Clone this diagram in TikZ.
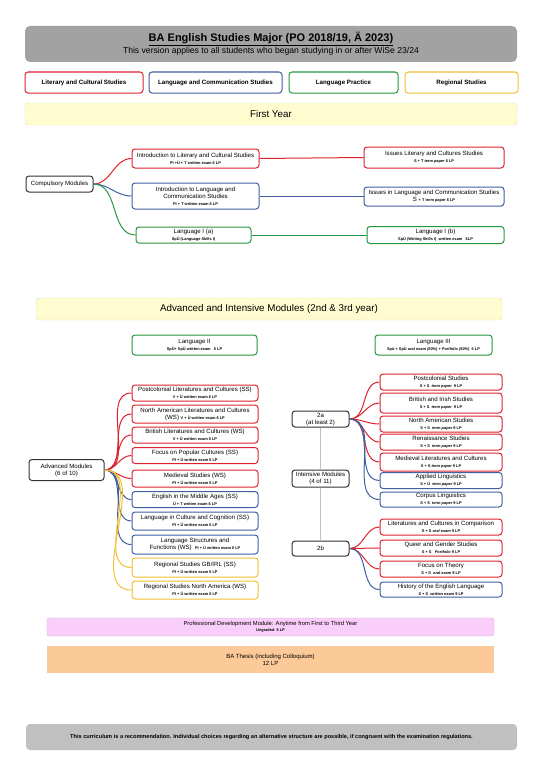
\documentclass[tikz,border=0pt]{standalone}
\usepackage{fontspec}
\setmainfont{Liberation Sans}
\usetikzlibrary{positioning}
\definecolor{litred}{RGB}{220,34,44}
\definecolor{langblue}{RGB}{62,96,160}
\definecolor{pracgreen}{RGB}{38,150,62}
\definecolor{regyellow}{RGB}{242,192,52}
\definecolor{headgray}{RGB}{162,162,162}
\definecolor{footgray}{RGB}{192,192,192}
\definecolor{baryellow}{RGB}{255,252,208}
\definecolor{barline}{RGB}{226,222,176}
\definecolor{pdpink}{RGB}{250,206,250}
\definecolor{pdline}{RGB}{222,176,222}
\definecolor{thesisorange}{RGB}{252,201,152}
\newcommand\exinfo[1]{{\fontsize{3.9}{4.5}\selectfont\bfseries #1}}
\tikzset{
  blk/.style   = {draw, rounded corners=3pt, line width=1pt, align=center,
                  fill=white, inner sep=1pt,
                  font=\fontsize{6.1}{7}\selectfont},
  lit/.style   = {blk, draw=litred},
  lang/.style  = {blk, draw=langblue},
  prac/.style  = {blk, draw=pracgreen},
  reg/.style   = {blk, draw=regyellow},
  root/.style  = {blk, draw=black!80},
  key/.style   = {minimum height=21pt, font=\fontsize{6.2}{7}\selectfont\bfseries},
  bar/.style   = {draw=barline, fill=baryellow, rounded corners=3pt,
                  minimum height=22pt, font=\fontsize{9.8}{11}\selectfont},
  lnk/.style   = {line width=1pt},
}

\begin{document}
\begin{tikzpicture}[x=1pt, y=-1pt]
\useasboundingbox (0,0) rectangle (543,768);

% ===== header and key =====
\node[fill=headgray, rounded corners=5pt, minimum width=492pt, minimum height=36pt,
      align=center, inner sep=0pt] (head) at (271,44)
     {\fontsize{11}{13}\selectfont\bfseries\underline{BA English Studies Major (PO 2018/19, Ä 2023)}\\
      \fontsize{8.6}{10}\selectfont This version applies to all students who began studying in or after WiSe 23/24};
\node[lit, key, minimum width=118pt] (keylit) at (84,82.5) {Literary and Cultural Studies};
\node[lang, key, minimum width=133pt] (keylang) at (215.5,82.5) {Language and Communication Studies};
\node[prac, key, minimum width=109pt] (keyprac) at (343.5,82.5) {Language Practice};
\node[reg, key, minimum width=113pt] (keyreg) at (461.5,82.5) {Regional Studies};

% ===== first year =====
\node[bar, minimum width=492pt] (firstyear) at (271,114) {First Year};

\node[root, minimum width=67pt, minimum height=16pt] (comp) at (59.5,184) {Compulsory Modules};
\node[lit, minimum width=127pt, minimum height=19pt] (introlit) at (195.5,158.5)
     {Introduction to Literary and Cultural Studies\\\exinfo{PI +Ü + T written exam 6 LP}};
\node[lang, minimum width=127pt, minimum height=26pt] (introlang) at (195.5,196)
     {Introduction to Language and\\Communication Studies\\\exinfo{PI + T written exam 6 LP}};
\node[prac, minimum width=115pt, minimum height=16pt] (langia) at (193.5,235)
     {Language I (a)\\\exinfo{SpÜ (Language Skills I)}};
\node[lit, minimum width=140pt, minimum height=21pt] (issueslit) at (434,157.5)
     {Issues Literary and Cultures Studies\\\exinfo{S + T term paper 6 LP}};
\node[lang, minimum width=140pt, minimum height=19pt] (issueslang) at (434,196.5)
     {Issues in Language and Communication Studies\\S \exinfo{+ T term paper 6 LP}};
\node[prac, minimum width=137pt, minimum height=17pt] (langib) at (435.5,235)
     {Language I (b)\\\exinfo{SpÜ (Writing Skills I)\ \ written exam\ \ \ 6LP}};

% ===== advanced and intensive =====
\node[bar, minimum width=466pt] (advyear) at (269,309) {Advanced and Intensive Modules (2nd \& 3rd year)};

\node[prac, minimum width=125pt, minimum height=20pt] (langii) at (194.5,345)
     {Language II\\\exinfo{SpÜ+ SpÜ written exam\ \ \ 6 LP}};
\node[prac, minimum width=117pt, minimum height=20pt] (langiii) at (433.5,345)
     {Language III\\\exinfo{Spü + SpÜ \itshape oral exam (50\%) + Portfolio (50\%)\ \ \upshape 6 LP}};

\node[root, minimum width=75pt, minimum height=21pt] (adv) at (66.5,470)
     {Advanced Modules\\(6 of 10)};
\node[lit, minimum width=126pt, minimum height=16pt] (pcl) at (195,393)
     {Postcolonial Literatures and Cultures (SS)\\\exinfo{V + Ü written exam 6 LP}};
\node[lit, minimum width=126pt, minimum height=18pt] (nal) at (195,414)
     {North American Literatures and Cultures\\(WS) \exinfo{V + Ü written exam 6 LP}};
\node[lit, minimum width=126pt, minimum height=16pt] (bri) at (195,435)
     {British Literatures and Cultures (WS)\\\exinfo{V + Ü written exam 6 LP}};
\node[lit, minimum width=126pt, minimum height=16pt] (pop) at (195,455.5)
     {Focus on Popular Cultures (SS)\\\exinfo{PI + Ü written exam 6 LP}};
\node[lit, minimum width=126pt, minimum height=17pt] (med) at (195,478.5)
     {Medieval Studies (WS)\\\exinfo{PI + Ü written exam 6 LP}};
\node[lang, minimum width=126pt, minimum height=16pt] (ema) at (195,499.5)
     {English in the Middle Ages (SS)\\\exinfo{Ü + T written exam 6 LP}};
\node[lang, minimum width=126pt, minimum height=18pt] (lcc) at (195,521)
     {Language in Culture and Cognition (SS)\\\exinfo{PI + Ü written exam 6 LP}};
\node[lang, minimum width=126pt, minimum height=19pt] (lsf) at (195,544.5)
     {Language Structures and\\Functions (WS)\ \ \exinfo{PI + Ü written exam 6 LP}};
\node[reg, minimum width=126pt, minimum height=19pt] (rgb) at (195,567.5)
     {Regional Studies GB/IRL (SS)\\\exinfo{PI + Ü written exam 6 LP}};
\node[reg, minimum width=126pt, minimum height=18pt] (rna) at (195,590)
     {Regional Studies North America (WS)\\\exinfo{PI + Ü written exam 6 LP}};

\node[root, minimum width=57pt, minimum height=16pt] (twoa) at (320.5,419)
     {2a\\(at least 2)};
\node[root, minimum width=57pt, minimum height=17pt] (intens) at (320.5,478.5)
     {Intensive Modules\\(4 of 11)};
\node[root, minimum width=57pt, minimum height=15pt] (twob) at (320.5,548.5) {2b};

\node[lit, minimum width=122pt, minimum height=16pt] (pcs) at (441,382)
     {Postcolonial Studies\\\exinfo{S + S\ \ \itshape term paper\ \ \upshape 9 LP}};
\node[lit, minimum width=122pt, minimum height=20pt] (bis) at (441,403)
     {British and Irish Studies\\\exinfo{S + S\ \ \itshape term paper\ \ \upshape 9 LP}};
\node[lit, minimum width=122pt, minimum height=16pt] (nas) at (441,424)
     {North American Studies\\\exinfo{S + S\ \ \itshape term paper \upshape 9 LP}};
\node[lit, minimum width=122pt, minimum height=16pt] (ren) at (441,442)
     {Renaissance Studies\\\exinfo{S + S\ \ \itshape term paper \upshape 9 LP}};
\node[lit, minimum width=122pt, minimum height=18pt] (mlc) at (441,462)
     {Medieval Literatures and Cultures\\\exinfo{S + S \itshape term paper \upshape 9 LP}};
\node[lang, minimum width=122pt, minimum height=16pt] (apl) at (441,480.5)
     {Applied Linguistics\\\exinfo{S + Ü\ \ \itshape term paper \upshape 9 LP}};
\node[lang, minimum width=122pt, minimum height=15pt] (cor) at (441,499.5)
     {Corpus Linguistics\\\exinfo{S + S\ \ \itshape term paper \upshape 9 LP}};
\node[lit, minimum width=122pt, minimum height=16pt] (lcomp) at (441,527)
     {Literatures and Cultures in Comparison\\\exinfo{S + S \itshape oral exam \upshape 9 LP}};
\node[lit, minimum width=122pt, minimum height=16pt] (qgs) at (441,548)
     {Queer and Gender Studies\\\exinfo{S + S\ \ \ \itshape Portfolio \upshape 9 LP}};
\node[lit, minimum width=122pt, minimum height=16pt] (fot) at (441,569)
     {Focus on Theory\\\exinfo{S + S\ \ \itshape oral exam \upshape 9 LP}};
\node[lang, minimum width=122pt, minimum height=15pt] (hel) at (441,589.5)
     {History of the English Language\\\exinfo{S + S\ \ \itshape written exam \upshape 9 LP}};

% ===== professional development, thesis, footer =====
\node[draw=pdline, fill=pdpink, rounded corners=2pt, minimum width=447pt, minimum height=18pt,
      align=center, inner sep=1pt, font=\fontsize{5.8}{6.6}\selectfont] (profdev) at (270.5,627)
     {Professional Development Module: Anytime from First to Third Year\\\exinfo{Ungraded\ \ 6 LP}};
\node[fill=thesisorange, minimum width=447pt, minimum height=27pt, align=center,
      font=\fontsize{6}{7}\selectfont] (thesis) at (270.5,659.5)
     {BA Thesis (including Colloquium)\\12 LP};
\node[fill=footgray, rounded corners=4pt, minimum width=491pt, minimum height=26pt,
      font=\fontsize{5.6}{7}\selectfont\bfseries] (foot) at (271.5,737)
     {This curriculum is a recommendation. Individual choices regarding an alternative structure are possible, if congruent with the examination regulations.};

% ===== connections =====
\draw[lnk, litred] (comp.east) to[out=0,in=180] (introlit.west);
\draw[lnk, langblue] (comp.east) to[out=0,in=180] (introlang.west);
\draw[lnk, pracgreen] (comp.east) to[out=0,in=180] (langia.west);
\draw[lnk, litred] (introlit.east) -- (issueslit.west);
\draw[lnk, langblue] (introlang.east) -- (issueslang.west |- introlang.east);
\draw[lnk, pracgreen] (langia.east) -- (langib.west);

\foreach \n in {pcl,nal,bri,pop,med}{\draw[lnk, litred] (adv.east) to[out=0,in=180] (\n.west);}
\foreach \n in {ema,lcc,lsf}{\draw[lnk, langblue] (adv.east) to[out=0,in=180] (\n.west);}
\foreach \n in {rgb,rna}{\draw[lnk, regyellow] (adv.east) to[out=0,in=180] (\n.west);}

\foreach \n in {pcs,bis,nas,ren,mlc}{\draw[lnk, litred] (twoa.east) to[out=0,in=180] (\n.west);}
\foreach \n in {apl,cor}{\draw[lnk, langblue] (twoa.east) to[out=0,in=180] (\n.west);}
\foreach \n in {lcomp,qgs,fot}{\draw[lnk, litred] (twob.east) to[out=0,in=180] (\n.west);}
\draw[lnk, langblue] (twob.east) to[out=0,in=180] (hel.west);

\draw[black!25, line width=0.8pt] (twoa.south) -- (intens.north);
\draw[black!25, line width=0.8pt] (intens.south) -- (twob.north);
\end{tikzpicture}
\end{document}
